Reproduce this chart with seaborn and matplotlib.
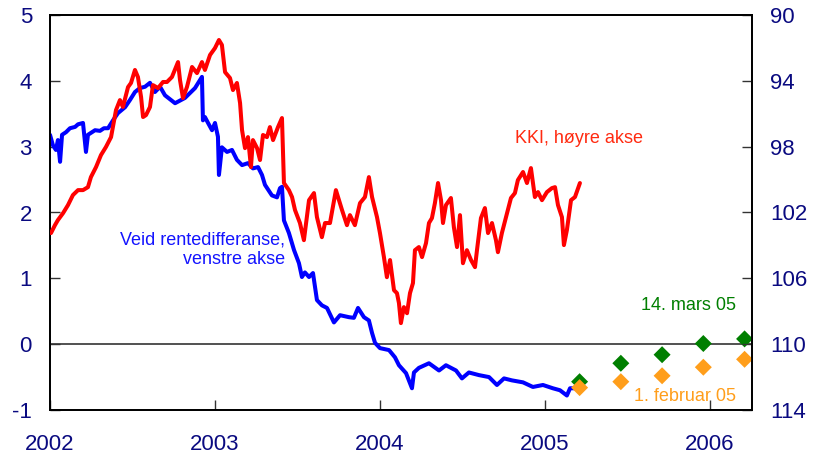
import matplotlib
matplotlib.use("Agg")
import matplotlib.pyplot as plt
import pandas as pd
import seaborn as sns

# ---------------- data ----------------
blue_dates = [2002.000, 2002.018, 2002.036, 2002.048, 2002.061, 2002.073, 2002.097, 2002.121, 2002.152,
              2002.170, 2002.200, 2002.218, 2002.230, 2002.273, 2002.303, 2002.327, 2002.352, 2002.382,
              2002.412, 2002.455, 2002.485, 2002.515, 2002.545, 2002.576, 2002.606, 2002.636, 2002.667,
              2002.697, 2002.758, 2002.818, 2002.879, 2002.921, 2002.927, 2002.939, 2002.958, 2002.982,
              2003.000, 2003.018, 2003.024, 2003.042, 2003.073, 2003.103, 2003.133, 2003.164, 2003.200,
              2003.230, 2003.261, 2003.285, 2003.303, 2003.345, 2003.376, 2003.394, 2003.406, 2003.418,
              2003.448, 2003.479, 2003.509, 2003.527, 2003.545, 2003.570, 2003.594, 2003.618, 2003.648,
              2003.679, 2003.721, 2003.758, 2003.812, 2003.842, 2003.867, 2003.903, 2003.933, 2003.952,
              2003.970, 2004.000, 2004.055, 2004.091, 2004.115, 2004.158, 2004.194, 2004.206, 2004.236,
              2004.297, 2004.358, 2004.400, 2004.461, 2004.497, 2004.539, 2004.600, 2004.661, 2004.709,
              2004.752, 2004.800, 2004.867, 2004.927, 2004.988, 2005.048, 2005.091, 2005.133, 2005.152,
              2005.194]
blue_values = [3.18, 3.02, 2.95, 3.10, 2.77, 3.18, 3.22, 3.28, 3.30,
               3.34, 3.36, 2.92, 3.18, 3.25, 3.24, 3.28, 3.28, 3.40,
               3.51, 3.60, 3.71, 3.83, 3.89, 3.91, 3.97, 3.83, 3.91,
               3.78, 3.66, 3.74, 3.89, 4.06, 3.40, 3.45, 3.36, 3.25,
               3.36, 3.15, 2.57, 2.99, 2.92, 2.95, 2.80, 2.72, 2.75,
               2.67, 2.69, 2.57, 2.42, 2.26, 2.23, 2.37, 2.39, 1.88,
               1.69, 1.43, 1.23, 1.02, 1.09, 1.02, 1.08, 0.67, 0.59,
               0.55, 0.33, 0.44, 0.41, 0.40, 0.55, 0.41, 0.36, 0.17,
               0.02, -0.06, -0.09, -0.20, -0.32, -0.44, -0.67, -0.43, -0.36,
               -0.29, -0.40, -0.32, -0.40, -0.52, -0.43, -0.47, -0.50, -0.62,
               -0.52, -0.55, -0.58, -0.65, -0.62, -0.67, -0.70, -0.78, -0.67,
               -0.67]

red_dates = [2002.006, 2002.030, 2002.048, 2002.079, 2002.109, 2002.139, 2002.170, 2002.200, 2002.230,
             2002.248, 2002.279, 2002.309, 2002.339, 2002.370, 2002.400, 2002.424, 2002.442, 2002.473,
             2002.491, 2002.515, 2002.533, 2002.552, 2002.564, 2002.582, 2002.606, 2002.624, 2002.655,
             2002.685, 2002.709, 2002.739, 2002.776, 2002.788, 2002.806, 2002.830, 2002.861, 2002.891,
             2002.921, 2002.939, 2002.970, 2003.000, 2003.024, 2003.042, 2003.061, 2003.091, 2003.109,
             2003.133, 2003.152, 2003.164, 2003.182, 2003.200, 2003.218, 2003.230, 2003.255, 2003.273,
             2003.291, 2003.315, 2003.333, 2003.352, 2003.382, 2003.406, 2003.418, 2003.448, 2003.467,
             2003.485, 2003.515, 2003.539, 2003.570, 2003.600, 2003.618, 2003.648, 2003.667, 2003.697,
             2003.733, 2003.770, 2003.800, 2003.818, 2003.848, 2003.879, 2003.909, 2003.933, 2003.952,
             2003.982, 2004.000, 2004.024, 2004.042, 2004.061, 2004.085, 2004.103, 2004.115, 2004.127,
             2004.145, 2004.164, 2004.182, 2004.200, 2004.212, 2004.236, 2004.255, 2004.279, 2004.297,
             2004.315, 2004.333, 2004.352, 2004.370, 2004.382, 2004.400, 2004.430, 2004.448, 2004.467,
             2004.485, 2004.503, 2004.527, 2004.552, 2004.576, 2004.588, 2004.612, 2004.636, 2004.655,
             2004.679, 2004.703, 2004.715, 2004.739, 2004.770, 2004.794, 2004.818, 2004.836, 2004.867,
             2004.891, 2004.915, 2004.939, 2004.958, 2004.982, 2005.012, 2005.042, 2005.061, 2005.079,
             2005.103, 2005.115, 2005.133, 2005.158, 2005.182, 2005.212]
red_values = [103.25, 102.77, 102.46, 102.04, 101.55, 100.94, 100.64, 100.64, 100.46,
              99.85, 99.24, 98.51, 98.02, 97.42, 95.78, 95.17, 95.59, 94.38,
              94.13, 93.34, 93.77, 94.98, 96.20, 96.08, 95.59, 94.26, 94.44,
              94.07, 94.07, 93.77, 92.86, 93.95, 95.05, 94.38, 93.16, 93.53,
              92.86, 93.34, 92.43, 92.01, 91.52, 91.82, 93.47, 93.83, 94.56,
              94.13, 95.35, 96.99, 98.09, 97.42, 99.24, 97.60, 98.09, 98.81,
              97.29, 97.42, 96.81, 97.60, 96.81, 96.26, 100.21, 100.64, 101.06,
              101.85, 102.64, 103.68, 101.25, 100.82, 102.28, 103.50, 102.64, 102.64,
              100.64, 101.85, 102.77, 102.16, 102.77, 101.43, 101.06, 99.85, 101.06,
              102.28, 103.25, 104.71, 105.93, 104.89, 106.72, 106.90, 107.50, 108.72,
              107.75, 108.12, 106.90, 106.29, 104.29, 104.10, 104.71, 103.86, 102.64,
              102.34, 101.43, 100.21, 101.25, 102.64, 101.55, 101.12, 102.89, 104.10,
              102.16, 105.08, 104.29, 104.89, 105.32, 104.29, 102.34, 101.73, 103.25,
              102.64, 103.68, 104.41, 103.25, 102.04, 101.12, 100.82, 100.03, 99.54,
              100.21, 99.30, 101.06, 100.76, 101.25, 100.76, 100.52, 100.46, 101.55,
              102.28, 103.98, 103.07, 101.25, 101.06, 100.21]

fc_dates = [2005.21, 2005.46, 2005.71, 2005.96, 2006.21]
fc_mar05 = [-0.57, -0.29, -0.16, 0.01, 0.08]
fc_feb05 = [-0.66, -0.57, -0.48, -0.35, -0.23]

x_ticks = [2002, 2003, 2004, 2005, 2006]
left_ticks = [-1, 0, 1, 2, 3, 4, 5]
right_ticks = [90, 94, 98, 102, 106, 110, 114]

# ---------------- style ----------------
sns.set_style("ticks")
plt.rcParams["font.family"] = ["Liberation Sans", "DejaVu Sans"]

NAVY = "#0A0A80"
BLUE = "#0000FF"
RED = "#FF0000"
GREEN = "#007F00"
ORANGE = "#FF9E1B"

blue_df = pd.DataFrame({"date": blue_dates, "value": blue_values})
red_df = pd.DataFrame({"date": red_dates, "value": red_values})
fc_df = pd.DataFrame({"date": fc_dates * 2,
                      "value": fc_mar05 + fc_feb05,
                      "vintage": ["14. mars 05"] * len(fc_dates) + ["1. februar 05"] * len(fc_dates)})

fig = plt.figure(figsize=(8.14, 4.61), dpi=100)
ax = fig.add_axes([50 / 814, 51 / 461, 702 / 814, 395 / 461])
ax2 = ax.twinx()

ax.axhline(0, color="#333333", lw=1.2, zorder=1)

sns.lineplot(data=blue_df, x="date", y="value", ax=ax, color=BLUE, lw=2.9,
             estimator=None, sort=False, legend=False, zorder=3)
sns.scatterplot(data=fc_df, x="date", y="value", hue="vintage", ax=ax,
                palette={"14. mars 05": GREEN, "1. februar 05": ORANGE},
                marker="D", s=75, linewidth=0, legend=False, zorder=4)
sns.lineplot(data=red_df, x="date", y="value", ax=ax2, color=RED, lw=2.9,
             estimator=None, sort=False, legend=False, zorder=3)

ax.set_xlim(2002, 2006.255)
ax.set_ylim(-1, 5)
ax2.set_ylim(114, 90)

ax.set_xticks(x_ticks)
ax.set_xticklabels([str(t) for t in x_ticks])
ax.set_yticks(left_ticks)
ax.set_yticklabels([str(t) for t in left_ticks])
ax2.set_yticks(right_ticks)
ax2.set_yticklabels([str(t) for t in right_ticks])

for a in (ax, ax2):
    a.set_xlabel("")
    a.set_ylabel("")
    for sp in a.spines.values():
        sp.set_visible(True)
        sp.set_color("black")
        sp.set_linewidth(1.3)

ax.tick_params(axis="y", direction="in", length=7, width=1, pad=13,
               labelsize=16, labelcolor=NAVY, color="#333333")
ax.tick_params(axis="x", direction="in", length=7, width=1, pad=17,
               labelsize=16, labelcolor=NAVY, color="#333333")
ax2.tick_params(axis="y", direction="in", length=7, width=1, pad=13,
                labelsize=16, labelcolor=NAVY, color="#333333")

ax.text(2004.818, 3.13, "KKI, høyre akse", color="#FF2A10", fontsize=13,
        ha="left", va="center")
ax.text(2003.424, 1.44, "Veid rentedifferanse,\nvenstre akse", color="#1414FF",
        fontsize=13, ha="right", va="center", multialignment="right", linespacing=1.2)
ax.text(2006.158, 0.59, "14. mars 05", color=GREEN, fontsize=13, ha="right", va="center")
ax.text(2006.158, -0.79, "1. februar 05", color=ORANGE, fontsize=13, ha="right", va="center")

fig.savefig("out.png", dpi=100)
